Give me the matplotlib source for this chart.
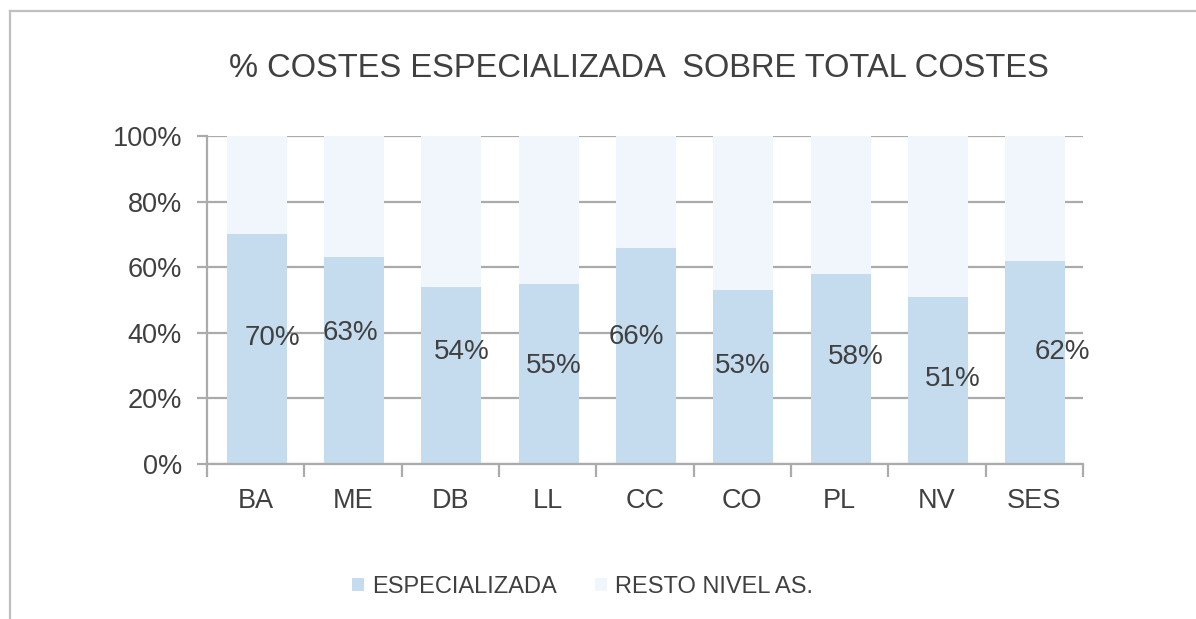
import matplotlib.pyplot as plt
from matplotlib.lines import Line2D
from matplotlib.patches import Patch
import numpy as np

plt.rcParams['font.family'] = ['Liberation Sans', 'DejaVu Sans']

categories = ["BA", "ME", "DB", "LL", "CC", "CO", "PL", "NV", "SES"]
especializada = [70, 63, 54, 55, 66, 53, 58, 51, 62]
resto = [100 - v for v in especializada]

# where each percentage label sits (x shift in category units, height in %)
label_dx = [0.17, -0.03, 0.12, 0.06, -0.09, 0.0, 0.17, 0.16, 0.29]
label_y = [38.4, 40.0, 34.0, 30.0, 38.7, 30.0, 32.6, 26.0, 34.0]

text_col = "#404040"
grid_col = "#ABABAB"
c_esp = "#C5DBEE"
c_resto = "#F0F6FB"

fig = plt.figure(figsize=(11.96, 6.19), dpi=100)
ax = fig.add_axes([0.1731, 0.2504, 0.7324, 0.5299])

x = np.arange(len(categories))
ax.bar(x + 0.01, especializada, width=0.615, color=c_esp, zorder=2)
ax.bar(x + 0.01, resto, width=0.615, bottom=especializada, color=c_resto, zorder=2)

for i, v in enumerate(especializada):
    ax.text(x[i] + label_dx[i], label_y[i], f"{v}%", ha="center", va="center",
            fontsize=20, color=text_col, zorder=3)

ax.set_xlim(-0.5, len(categories) - 0.5)
ax.set_ylim(0, 100)
ax.set_yticks(np.arange(0, 101, 20))
ax.set_yticklabels([f"{t}%" for t in range(0, 101, 20)])
ax.yaxis.grid(True, color=grid_col, linewidth=1.6, zorder=0)
ax.set_axisbelow(True)

ax.set_xticks(x)
ax.set_xticklabels(categories)
ax.set_xticks(np.arange(-0.5, len(categories)), minor=True)
ax.tick_params(axis="x", which="major", length=0, pad=17, labelsize=19.5, labelcolor=text_col)
ax.tick_params(axis="x", which="minor", length=9, width=1.6, color=grid_col)
ax.tick_params(axis="y", length=7, width=1.6, color=grid_col, pad=11, labelsize=19.5, labelcolor=text_col)

for side in ["top", "right"]:
    ax.spines[side].set_visible(False)
for side in ["left", "bottom"]:
    ax.spines[side].set_color(grid_col)
    ax.spines[side].set_linewidth(1.6)

fig.text(0.534, 0.889, "% COSTES ESPECIALIZADA  SOBRE TOTAL COSTES", ha="center", va="center",
         fontsize=23.5, color=text_col)

handles = [Patch(facecolor=c_esp, edgecolor="none"), Patch(facecolor=c_resto, edgecolor="none")]
fig.legend(handles, ["ESPECIALIZADA", "RESTO NIVEL AS."], loc="center", bbox_to_anchor=(0.487, 0.052),
           ncol=2, frameon=False, fontsize=17, labelcolor=text_col, handlelength=0.5, handleheight=0.5,
           handletextpad=0.35, columnspacing=1.6)

# outer chart frame, left and top edges
fig.add_artist(Line2D([0.0080, 0.0080], [0.0, 0.9822], color="#BFBFBF", linewidth=1.6))
fig.add_artist(Line2D([0.0080, 1.0], [0.9822, 0.9822], color="#BFBFBF", linewidth=1.6))

fig.savefig("out.png", dpi=100)
